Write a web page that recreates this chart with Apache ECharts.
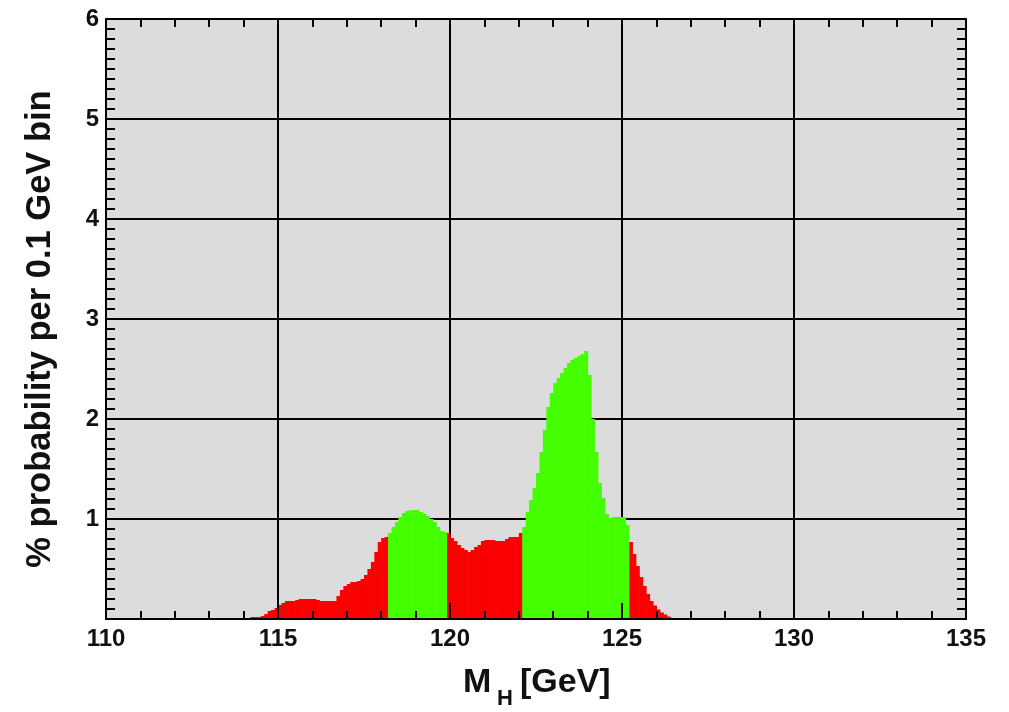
<!DOCTYPE html>
<html>
<head>
<meta charset="utf-8">
<script src="https://cdn.jsdelivr.net/npm/echarts@6/dist/echarts.min.js"></script>
<style>
html,body{margin:0;padding:0;background:#fff;}
#chart{width:1009px;height:712px;}
</style>
</head>
<body>
<div id="chart"></div>
<script>
// Histogram, 0.1 GeV bins. Each block: first bin lower edge + bin contents (% per bin)
const binWidth = 0.1;
const redLowStart = 114.2;
const redLow = [0.02,0.02,0.02,0.03,0.05,0.08,0.09,0.11,0.14,0.16,
                0.18,0.18,0.18,0.19,0.20,0.20,0.20,0.20,0.20,0.19,
                0.18,0.18,0.18,0.18,0.18,0.23,0.29,0.33,0.35,0.37,
                0.37,0.38,0.40,0.44,0.50,0.57,0.67,0.77,0.81,0.82];
const greenAStart = 118.2;
const greenA = [0.86,0.92,0.97,1.02,1.06,1.08,1.09,1.09,1.09,1.07,
                1.05,1.03,1.00,0.97,0.92,0.88,0.87];
const redMidStart = 119.9;
const redMid = [0.86,0.81,0.78,0.74,0.71,0.69,0.67,0.69,0.72,0.74,
                0.78,0.79,0.79,0.79,0.78,0.78,0.78,0.80,0.82,0.82,
                0.82,0.86];
const greenBStart = 122.1;
const greenB = [0.92,1.07,1.19,1.31,1.46,1.67,1.89,2.12,2.26,2.36,
                2.41,2.46,2.51,2.56,2.59,2.61,2.63,2.65,2.68,
                2.44,2.00,1.67,1.36,1.21,1.05,1.01,1.02,1.02,1.02,1.02,0.94];
const redHighStart = 125.2;
const redHigh = [0.77,0.65,0.53,0.42,0.33,0.25,0.18,0.135,0.095,0.065,0.045,0.025];

const xTicks = [110,115,120,125,130,135];
const yTicks = [0,1,2,3,4,5,6];

function toBins(start, vals){
  return vals.map((v,i)=>{
    const lo = Math.round((start + i*binWidth)*10)/10;
    const hi = Math.round((start + (i+1)*binWidth)*10)/10;
    return [lo, hi, v];
  });
}
const redData = [].concat(toBins(redLowStart, redLow), toBins(redMidStart, redMid), toBins(redHighStart, redHigh));
const greenData = [].concat(toBins(greenAStart, greenA), toBins(greenBStart, greenB));

function renderBin(color){
  return function(params, api){
    const p0 = api.coord([api.value(0), api.value(2)]);
    const p1 = api.coord([api.value(1), 0]);
    return {
      type:'rect',
      shape:{x:p0[0], y:p0[1], width:p1[0]-p0[0]+0.6, height:p1[1]-p0[1]},
      style:{fill:color}
    };
  };
}

const FONT = '"Liberation Sans", Arial, Helvetica, sans-serif';
const TXT = '#111';
const xMin = xTicks[0], xMax = xTicks[xTicks.length-1];
const yMin = yTicks[0], yMax = yTicks[yTicks.length-1];
const blackLine = {color:'#000', width:2};

const chart = echarts.init(document.getElementById('chart'), null, {renderer:'canvas'});
chart.setOption({
  animation:false,
  backgroundColor:'#fff',
  grid:{left:106, right:43, top:19, bottom:93, show:true, backgroundColor:'#dcdcdc', borderWidth:0},
  xAxis:[
    {type:'value', min:xMin, max:xMax, interval:5, position:'bottom', z:0,
     axisLine:{show:false}, axisTick:{show:false}, axisLabel:{show:false},
     splitLine:{show:true, lineStyle:blackLine}},
    {type:'value', min:xMin, max:xMax, interval:5, position:'bottom', z:10,
     axisLine:{show:true, onZero:false, lineStyle:blackLine},
     axisTick:{show:true, inside:true, length:16, lineStyle:blackLine},
     minorTick:{show:true, splitNumber:5, length:8, lineStyle:blackLine},
     splitLine:{show:false},
     axisLabel:{show:true, margin:8, fontSize:24, fontWeight:'bold', fontFamily:FONT, color:TXT}},
    {type:'value', min:xMin, max:xMax, interval:5, position:'top', z:10,
     axisLine:{show:true, onZero:false, lineStyle:blackLine},
     axisTick:{show:true, inside:true, length:16, lineStyle:blackLine},
     minorTick:{show:true, splitNumber:5, length:8, lineStyle:blackLine},
     splitLine:{show:false}, axisLabel:{show:false}}
  ],
  yAxis:[
    {type:'value', min:yMin, max:yMax, interval:1, position:'left', z:0,
     axisLine:{show:false}, axisTick:{show:false}, axisLabel:{show:false},
     splitLine:{show:true, lineStyle:blackLine}},
    {type:'value', min:yMin, max:yMax, interval:1, position:'left', z:10,
     axisLine:{show:true, onZero:false, lineStyle:blackLine},
     axisTick:{show:true, inside:true, length:16, lineStyle:blackLine},
     minorTick:{show:true, splitNumber:10, length:9, lineStyle:blackLine},
     splitLine:{show:false},
     axisLabel:{show:true, margin:7, fontSize:24, fontWeight:'bold', fontFamily:FONT, color:TXT,
       formatter:function(v){ return v === 0 ? '' : String(v); }}},
    {type:'value', min:yMin, max:yMax, interval:1, position:'right', z:10,
     axisLine:{show:true, onZero:false, lineStyle:blackLine},
     axisTick:{show:true, inside:true, length:16, lineStyle:blackLine},
     minorTick:{show:true, splitNumber:10, length:9, lineStyle:blackLine},
     splitLine:{show:false}, axisLabel:{show:false}}
  ],
  series:[
    {name:'red', type:'custom', xAxisIndex:0, yAxisIndex:0, z:3, renderItem:renderBin('#fa0000'),
     encode:{x:[0,1], y:2}, data:redData},
    {name:'green', type:'custom', xAxisIndex:0, yAxisIndex:0, z:3, renderItem:renderBin('#44ff00'),
     encode:{x:[0,1], y:2}, data:greenData}
  ],
  graphic:[
    {type:'text', x:40, y:329, rotation:Math.PI/2, z:20,
     style:{text:'% probability per 0.1 GeV bin', fontSize:34.5, fontWeight:'bold', fontFamily:FONT,
            fill:TXT, align:'center', verticalAlign:'middle'}},
    {type:'text', x:463, y:683, z:20,
     style:{text:'M', fontSize:34, fontWeight:'bold', fontFamily:FONT, fill:TXT, align:'left', verticalAlign:'middle'}},
    {type:'text', x:497, y:699, z:20,
     style:{text:'H', fontSize:22, fontWeight:'bold', fontFamily:FONT, fill:TXT, align:'left', verticalAlign:'middle'}},
    {type:'text', x:520, y:683, z:20,
     style:{text:'[GeV]', fontSize:34, fontWeight:'bold', fontFamily:FONT, fill:TXT, align:'left', verticalAlign:'middle'}}
  ]
});
</script>
</body>
</html>
